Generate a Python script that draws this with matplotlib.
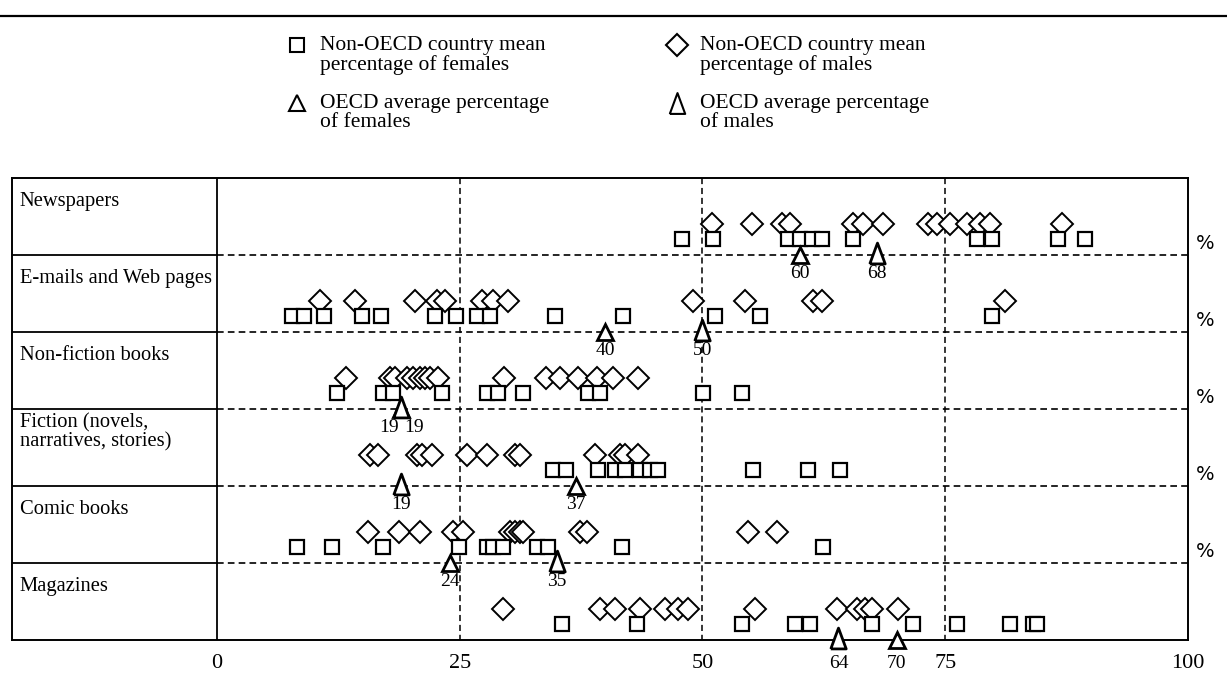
import matplotlib
matplotlib.use('Agg')
import matplotlib.pyplot as plt
from matplotlib.lines import Line2D

plt.rcParams['font.family'] = ['Liberation Serif', 'DejaVu Serif']

categories = ['Newspapers', 'E-mails and Web pages', 'Non-fiction books',
              'Fiction (novels,\nnarratives, stories)', 'Comic books', 'Magazines']

# non-OECD country means, percentage of females (squares)
females = [
    [47.9, 51.1, 58.8, 60.0, 61.3, 62.3, 65.5, 78.3, 79.8, 86.6, 89.4],
    [7.7, 9.0, 11.0, 14.9, 16.9, 22.5, 24.6, 26.8, 28.1, 34.8, 41.8, 51.3, 55.9, 79.8],
    [12.4, 17.1, 18.1, 23.2, 27.8, 28.9, 31.5, 38.2, 39.4, 50.1, 54.1],
    [34.6, 36.0, 39.2, 41.0, 42.0, 43.6, 44.6, 45.4, 55.2, 60.9, 64.2],
    [8.2, 11.9, 17.1, 24.9, 27.8, 28.4, 29.5, 33.0, 34.1, 41.7, 62.4],
    [35.5, 43.3, 54.1, 59.5, 61.1, 67.5, 71.7, 76.2, 81.7, 84.0, 84.4],
]

# non-OECD country means, percentage of males (diamonds)
males = [
    [51.0, 55.1, 58.2, 59.0, 65.5, 66.5, 68.6, 73.2, 74.2, 75.5, 77.2, 78.6, 79.6, 87.0],
    [10.6, 14.2, 20.4, 22.7, 23.5, 27.3, 28.4, 30.0, 49.0, 54.4, 61.4, 62.3, 81.2],
    [13.3, 17.8, 18.3, 19.6, 20.2, 20.9, 21.4, 21.9, 22.8, 29.6, 33.9, 35.3, 37.2, 39.1, 40.8, 43.4],
    [15.8, 16.6, 20.6, 21.1, 22.2, 25.8, 27.8, 30.7, 31.2, 38.9, 41.5, 42.0, 43.4],
    [15.6, 18.8, 20.9, 24.3, 25.3, 30.2, 30.7, 31.2, 31.5, 37.4, 38.1, 54.7, 57.7],
    [29.5, 39.4, 41.0, 43.6, 46.1, 47.5, 48.5, 55.4, 63.9, 65.9, 66.7, 67.5, 70.1],
]

oecd_female = [60, 40, 19, 37, 24, 70]
oecd_male = [68, 50, 19, 19, 35, 64]

ticks = [0, 25, 50, 75, 100]

W, H = 1227, 687
fig = plt.figure(figsize=(W / 100, H / 100), dpi=100)

# thin triangle used for the male OECD average
tall_tri = [(-0.37, -0.5), (0.37, -0.5), (0, 0.5), (-0.37, -0.5)]

fs = 15.5
label_w = 21.1  # width of the label column in data units

ax = fig.add_axes([12 / W, 1 - 640 / H, 1176 / W, 462 / H])
ax.set_xlim(-label_w, 100)
ax.set_ylim(len(categories), 0)
ax.set_yticks([])
ax.set_xticks(ticks)
ax.set_xticklabels([str(t) for t in ticks], fontsize=16)
ax.tick_params(axis='x', length=0, pad=10)
for s in ax.spines.values():
    s.set_linewidth(1.4)

# table lines
ax.plot([0, 0], [0, len(categories)], color='black', lw=1.3)
for i in range(1, len(categories)):
    ax.plot([-label_w, 0], [i, i], color='black', lw=1.3)
    ax.plot([0, 100], [i, i], color='black', lw=1.2, ls=(0, (4, 2.5)))
    ax.text(101.8, i - 0.15, '%', ha='center', va='center', fontsize=14,
            family='DejaVu Sans', clip_on=False)
for v in ticks[1:-1]:
    ax.plot([v, v], [0, len(categories)], color='black', lw=1.1, ls=(0, (4, 2.5)))

for i, cat in enumerate(categories):
    ax.text(-label_w + 0.8, i + 0.3, cat, ha='left', va='center', fontsize=14.8, linespacing=1.0)

    ax.plot(males[i], [i + 0.6] * len(males[i]), ls='none', marker='D', ms=11,
            mfc='white', mec='black', mew=1.4, zorder=3)
    ax.plot(females[i], [i + 0.79] * len(females[i]), ls='none', marker='s', ms=10.5,
            mfc='white', mec='black', mew=1.6, zorder=4)

    f, m = oecd_female[i], oecd_male[i]
    ax.plot([f], [i + 1], ls='none', marker='^', ms=11, mfc='white', mec='black',
            mew=2, zorder=5, clip_on=False)
    ax.plot([m], [i + 0.98], ls='none', marker=tall_tri, ms=15, mfc='white', mec='black',
            mew=2, zorder=5, clip_on=False)
    off = 1.3 if f == m else 0
    ly = i + 1.24 if i < len(categories) - 1 else i + 1.3
    ax.text(f - off, ly, str(f), ha='center', va='center', fontsize=14, clip_on=False)
    ax.text(m + off, ly, str(m), ha='center', va='center', fontsize=14, clip_on=False)

# legend drawn by hand, two columns
leg = [
    ('s', 10.5, 297, 45, 'Non-OECD country mean\npercentage of females'),
    ('D', 11, 677, 45, 'Non-OECD country mean\npercentage of males'),
    ('^', 11, 297, 103, 'OECD average percentage\nof females'),
    (tall_tri, 15, 677, 103, 'OECD average percentage\nof males'),
]
for mk, ms, x, y, txt in leg:
    fig.add_artist(Line2D([x / W], [1 - y / H], ls='none', marker=mk, ms=ms, mfc='white',
                          mec='black', mew=1.5, transform=fig.transFigure))
    fig.text((x + 23) / W, 1 - (y - 9) / H, txt, ha='left', va='top', fontsize=fs,
             linespacing=1.0)

# header rule
fig.add_artist(Line2D([0, 1], [1 - 16 / H, 1 - 16 / H], color='black', lw=1.6,
                      transform=fig.transFigure))

fig.savefig('out.png', dpi=100)
